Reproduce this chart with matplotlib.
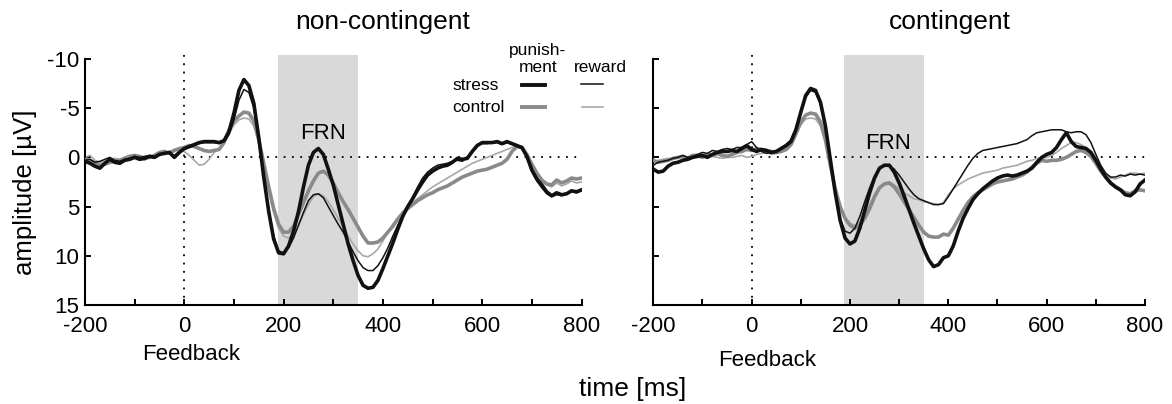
import numpy as np
import matplotlib
matplotlib.use("Agg")
import matplotlib.pyplot as plt
from matplotlib.lines import Line2D

plt.rcParams['font.family'] = ['Liberation Sans', 'DejaVu Sans']
plt.rcParams['axes.unicode_minus'] = False

# ---------------- data ----------------
time_ms = np.arange(-200, 801, 10)

# non-contingent panel
nc_stress_punish = [
    0.4, 0.6, 0.9, 1.1, 0.6, 0.2, 0.5, 0.6, 0.3, 0.2,
    0.0, 0.2, 0.1, -0.1, 0.0, -0.3, -0.4, -0.5, 0.0, -0.5,
    -0.9, -1.1, -1.3, -1.5, -1.6, -1.6, -1.6, -1.5, -1.7, -2.6,
    -4.5, -6.8, -7.9, -7.3, -5.5, -2.0, 2.0, 5.5, 8.3, 9.7,
    9.8, 9.0, 7.5, 5.5, 3.0, 0.8, -0.5, -0.9, -0.3, 1.2,
    2.8, 4.8, 6.8, 8.8, 10.5, 12.0, 13.0, 13.3, 13.2, 12.5,
    11.3, 10.0, 8.7, 7.3, 6.0, 5.0, 4.2, 3.3, 2.5, 1.8,
    1.4, 1.1, 0.9, 0.8, 0.5, 0.1, 0.2, 0.1, -0.6, -1.2,
    -1.5, -1.5, -1.5, -1.6, -1.4, -1.6, -1.4, -1.2, -1.0, -0.1,
    1.3, 2.2, 2.8, 3.5, 3.9, 3.6, 3.8, 3.7, 3.4, 3.5,
    3.3]
nc_stress_reward = [
    0.3, 0.2, 0.5, 0.4, 0.2, 0.0, 0.3, 0.4, 0.2, 0.1,
    -0.1, 0.0, -0.1, -0.2, -0.1, -0.3, -0.5, -0.4, -0.2, -0.6,
    -0.8, -1.0, -1.2, -1.4, -1.5, -1.5, -1.5, -1.4, -1.6, -2.3,
    -3.8, -5.8, -6.9, -6.6, -5.0, -1.8, 2.0, 5.3, 8.0, 9.5,
    9.7, 9.2, 8.2, 6.9, 5.6, 4.4, 3.8, 3.7, 4.1, 5.0,
    5.9, 6.8, 7.6, 8.6, 9.6, 10.5, 11.2, 11.5, 11.5, 11.0,
    10.2, 9.2, 8.0, 6.9, 5.9, 5.0, 4.0, 3.0, 2.1, 1.5,
    1.1, 0.8, 0.7, 0.6, 0.4, 0.3, 0.4, 0.0, -0.7, -1.3,
    -1.4, -1.4, -1.5, -1.5, -1.3, -1.5, -1.3, -1.1, -0.9, 0.0,
    1.4, 2.4, 3.1, 3.7, 4.0, 3.8, 3.9, 3.6, 3.5, 3.6,
    3.4]
nc_control_punish = [
    0.2, 0.3, 0.6, 0.8, 0.7, 0.5, 0.4, 0.3, 0.1, -0.1,
    -0.2, -0.1, 0.1, 0.0, -0.2, -0.5, -0.6, -0.4, -0.7, -0.9,
    -1.0, -1.2, -1.1, -0.9, -0.7, -0.6, -0.7, -0.8, -1.5, -2.8,
    -3.7, -4.2, -4.6, -4.5, -3.7, -1.8, 0.6, 3.0, 5.2, 6.8,
    7.6, 7.6, 7.0, 5.8, 4.6, 3.4, 2.4, 1.6, 1.4, 1.8,
    2.6, 3.6, 4.5, 5.3, 6.2, 7.1, 8.0, 8.7, 8.7, 8.6,
    8.2, 7.6, 7.0, 6.3, 5.7, 5.2, 4.8, 4.4, 4.1, 3.8,
    3.6, 3.3, 3.1, 2.9, 2.6, 2.3, 2.0, 1.8, 1.6, 1.4,
    1.3, 1.2, 1.0, 0.8, 0.6, 0.2, -0.6, -1.1, -1.0, -0.3,
    0.7, 1.6, 2.3, 2.7, 2.8, 2.3, 2.6, 2.4, 2.1, 2.2,
    2.1]
nc_control_reward = [
    0.0, -0.2, 0.3, 0.5, 0.4, 0.2, 0.1, 0.2, 0.0, -0.2,
    -0.1, 0.0, 0.3, -0.1, -0.3, -0.5, -0.4, -0.6, -0.8, -0.7,
    -0.6, -0.2, 0.3, 0.8, 0.7, 0.2, -0.5, -0.9, -1.4, -2.4,
    -3.3, -3.8, -4.0, -3.9, -3.2, -1.5, 1.0, 3.5, 5.6, 7.2,
    8.0, 8.2, 7.8, 6.9, 5.8, 4.8, 4.0, 3.7, 3.9, 4.5,
    5.3, 6.2, 7.1, 8.0, 8.8, 9.5, 10.0, 10.1, 9.8, 9.3,
    8.5, 7.6, 6.8, 6.1, 5.5, 5.0, 4.6, 4.2, 3.8, 3.4,
    3.0, 2.7, 2.4, 2.1, 1.8, 1.5, 1.2, 0.9, 0.6, 0.4,
    0.2, 0.0, -0.2, -0.4, -0.6, -0.8, -1.0, -1.1, -1.0, -0.2,
    0.8, 1.7, 2.4, 2.8, 3.0, 2.6, 2.9, 2.7, 2.4, 2.6,
    2.5]

# contingent panel
c_stress_punish = [
    1.2, 1.5, 1.4, 0.9, 0.6, 0.5, 0.3, 0.2, 0.0, -0.1,
    -0.2, 0.0, -0.3, -0.5, -0.6, -0.6, -0.7, -0.6, -0.9, -1.2,
    -0.8, -0.6, -0.8, -0.7, -0.5, -0.6, -0.9, -1.2, -1.6, -2.8,
    -4.6, -6.3, -7.0, -6.8, -5.6, -3.2, 0.2, 3.6, 6.4, 8.2,
    8.8, 8.5, 7.2, 5.4, 3.6, 2.1, 1.1, 0.8, 0.8, 1.5,
    2.6, 3.9, 5.3, 6.7, 8.0, 9.3, 10.4, 11.1, 10.9, 10.2,
    10.0, 9.0, 7.5, 6.2, 5.2, 4.3, 3.7, 3.2, 2.8, 2.4,
    2.1, 1.9, 1.8, 1.9, 1.8, 1.6, 1.4, 1.1, 0.5, 0.0,
    -0.3, -0.5, -1.0, -1.8, -2.5, -1.6, -1.1, -1.0, -0.9, -0.5,
    0.3, 1.2, 2.0, 2.6, 3.0, 3.3, 3.8, 3.9, 3.5, 2.7,
    2.3]
c_stress_reward = [
    0.8, 0.5, 0.4, 0.3, 0.1, 0.0, -0.2, 0.0, -0.1, -0.3,
    -0.5, -0.4, -0.7, -0.6, -0.8, -0.9, -0.8, -1.0, -1.0, -1.3,
    -1.6, -1.0, -0.6, -0.4, -0.5, -0.6, -0.9, -1.3, -1.8, -3.0,
    -4.6, -6.1, -6.8, -6.6, -5.4, -3.0, 0.4, 3.7, 6.2, 7.5,
    7.7, 7.2, 6.0, 4.5, 3.1, 1.9, 1.1, 0.8, 0.8, 1.2,
    1.8, 2.5, 3.2, 3.8, 4.2, 4.4, 4.6, 4.8, 4.8, 4.7,
    4.0, 3.2, 2.4, 1.6, 0.8, 0.1, -0.4, -0.7, -0.8, -0.9,
    -1.0, -1.1, -1.2, -1.3, -1.4, -1.6, -1.8, -2.2, -2.5, -2.6,
    -2.7, -2.8, -2.8, -2.8, -2.6, -2.5, -2.6, -2.6, -2.3, -1.5,
    -0.3, 0.8, 1.6, 2.0, 2.0, 1.8, 1.9, 1.7, 1.8, 1.7,
    1.8]
c_control_punish = [
    0.3, 0.5, 0.4, 0.3, 0.1, 0.0, -0.1, 0.1, -0.2, -0.2,
    0.0, -0.3, -0.2, -0.4, -0.2, -0.1, -0.3, -0.5, -0.6, -0.8,
    -0.7, -0.9, -0.8, -0.7, -0.6, -0.5, -0.6, -0.8, -1.3, -2.4,
    -3.6, -4.3, -4.5, -4.4, -3.6, -1.8, 0.8, 3.2, 5.0, 6.2,
    6.9, 7.2, 6.9, 6.2, 5.2, 4.0, 3.1, 2.7, 2.6, 3.0,
    3.7, 4.5, 5.3, 6.1, 6.9, 7.6, 8.0, 8.1, 8.1, 7.8,
    7.9, 7.2, 6.3, 5.4, 4.6, 4.0, 3.6, 3.3, 3.0, 2.7,
    2.5, 2.4, 2.3, 2.2, 2.0, 1.8, 1.5, 1.0, 0.6, 0.3,
    0.4, 0.3, 0.3, 0.2, 0.0, -0.3, -0.6, -0.7, -0.5, -0.1,
    0.6, 1.4, 2.0, 2.6, 3.0, 3.3, 3.6, 3.7, 3.4, 3.3,
    3.4]
c_control_reward = [
    0.5, 0.3, 0.2, 0.1, 0.2, 0.0, -0.1, 0.0, -0.2, -0.1,
    -0.2, 0.0, -0.1, 0.0, 0.1, 0.0, 0.0, -0.1, -0.2, 0.0,
    -0.1, -0.3, -0.4, -0.5, -0.3, -0.4, -0.5, -0.7, -1.2, -2.2,
    -3.3, -3.9, -4.0, -3.9, -3.2, -1.5, 1.0, 3.3, 5.0, 6.1,
    6.7, 6.9, 6.6, 5.8, 4.8, 3.8, 3.0, 2.6, 2.5, 2.8,
    3.2, 3.6, 3.9, 4.2, 4.3, 4.5, 4.6, 4.7, 4.8, 4.6,
    3.8, 3.2, 2.8, 2.5, 2.2, 2.0, 1.8, 1.6, 1.5, 1.4,
    1.3, 1.1, 1.0, 0.9, 0.8, 0.6, 0.4, 0.3, 0.1, 0.1,
    0.0, -0.2, -0.5, -0.9, -1.2, -1.5, -1.5, -1.3, -1.0, -0.4,
    0.4, 1.2, 1.8, 2.1, 2.2, 2.0, 1.8, 1.6, 1.6, 1.7,
    1.6]

panel_titles = ["non-contingent", "contingent"]
frn_window = (188, 350)
frn_label_pos = [(279, -2.4), (278, -1.4)]
x_ticks = [-200, 0, 200, 400, 600, 800]
x_minor = [-100, 100, 300, 500, 700]
y_ticks = [-10, -5, 0, 5, 10, 15]

# ---------------- figure ----------------
W, H = 1172, 404
fig = plt.figure(figsize=(W / 100, H / 100), dpi=100)

def fx(px):
    return px / W

def fy(py):
    return 1 - py / H

ax1 = fig.add_axes([fx(85), fy(305), (581.5 - 85) / W, 250 / H])
ax2 = fig.add_axes([fx(653.3), fy(305), (1145 - 653.3) / W, 250 / H])

BLACK = '#111111'
GRAY_THICK = '#8a8a8a'
GRAY_THIN = '#a8a8a8'

panels = [
    (ax1, nc_stress_punish, nc_stress_reward, nc_control_punish, nc_control_reward),
    (ax2, c_stress_punish, c_stress_reward, c_control_punish, c_control_reward),
]

for i, (ax, sp, sr, cp, cr) in enumerate(panels):
    ax.axvspan(frn_window[0], frn_window[1], color='#d9d9d9', lw=0, zorder=0)
    ax.plot([0, 0], [-10.4, 15], color='black', lw=1.3, ls=(0, (1, 3.6)), zorder=1)
    ax.plot([0, 800], [0, 0], color='black', lw=1.3, ls=(0, (1, 3.6)), zorder=1)
    ax.plot(time_ms, cr, color=GRAY_THIN, lw=1.2, zorder=2)
    ax.plot(time_ms, cp, color=GRAY_THICK, lw=2.6, zorder=3)
    ax.plot(time_ms, sr, color=BLACK, lw=1.1, zorder=4)
    ax.plot(time_ms, sp, color=BLACK, lw=2.6, zorder=5)

    ax.set_xlim(-200, 800)
    ax.set_ylim(15, -10.4)
    ax.spines['top'].set_visible(False)
    ax.spines['right'].set_visible(False)
    ax.spines['left'].set_bounds(-10, 15)
    for s in ('left', 'bottom'):
        ax.spines[s].set_linewidth(1.5)
    ax.set_xticks(x_ticks)
    ax.set_xticks(x_minor, minor=True)
    ax.set_yticks(y_ticks)
    ax.tick_params(axis='both', which='both', direction='in', length=4, width=1.4,
                   labelsize=16)
    ax.tick_params(axis='x', pad=8)
    ax.tick_params(axis='y', pad=4)
    if i == 1:
        ax.set_yticklabels([])
    ax.text(frn_label_pos[i][0], frn_label_pos[i][1], 'FRN', fontsize=16,
            ha='center', va='center', zorder=6)

# titles and labels
fig.text(fx(383), fy(22), panel_titles[0], fontsize=19, ha='center', va='center')
fig.text(fx(950), fy(22), panel_titles[1], fontsize=19, ha='center', va='center')
fig.text(fx(191), fy(355), 'Feedback', fontsize=16, ha='center', va='center')
fig.text(fx(767), fy(360), 'Feedback', fontsize=16, ha='center', va='center')
fig.text(fx(633), fy(389), 'time [ms]', fontsize=19, ha='center', va='center')
fig.text(fx(25), fy(192), 'amplitude [µV]', fontsize=18.5, ha='center', va='center',
         rotation=90)

# legend
fig.text(fx(538), fy(51), 'punish-', fontsize=12.5, ha='center', va='center')
fig.text(fx(538), fy(67), 'ment', fontsize=12.5, ha='center', va='center')
fig.text(fx(600), fy(67), 'reward', fontsize=12.5, ha='center', va='center')
fig.text(fx(452), fy(86), 'stress', fontsize=12.5, ha='left', va='center')
fig.text(fx(452), fy(108), 'control', fontsize=12.5, ha='left', va='center')
for (x0, x1, y, c, lw) in [
    (522, 545, 85, BLACK, 2.8),
    (522, 545, 107, GRAY_THICK, 2.8),
    (581, 603, 84, BLACK, 1.1),
    (582, 603, 107, GRAY_THIN, 1.2),
]:
    fig.add_artist(Line2D([fx(x0), fx(x1)], [fy(y), fy(y)], color=c, lw=lw,
                          transform=fig.transFigure))

fig.savefig('out.png', dpi=100)
